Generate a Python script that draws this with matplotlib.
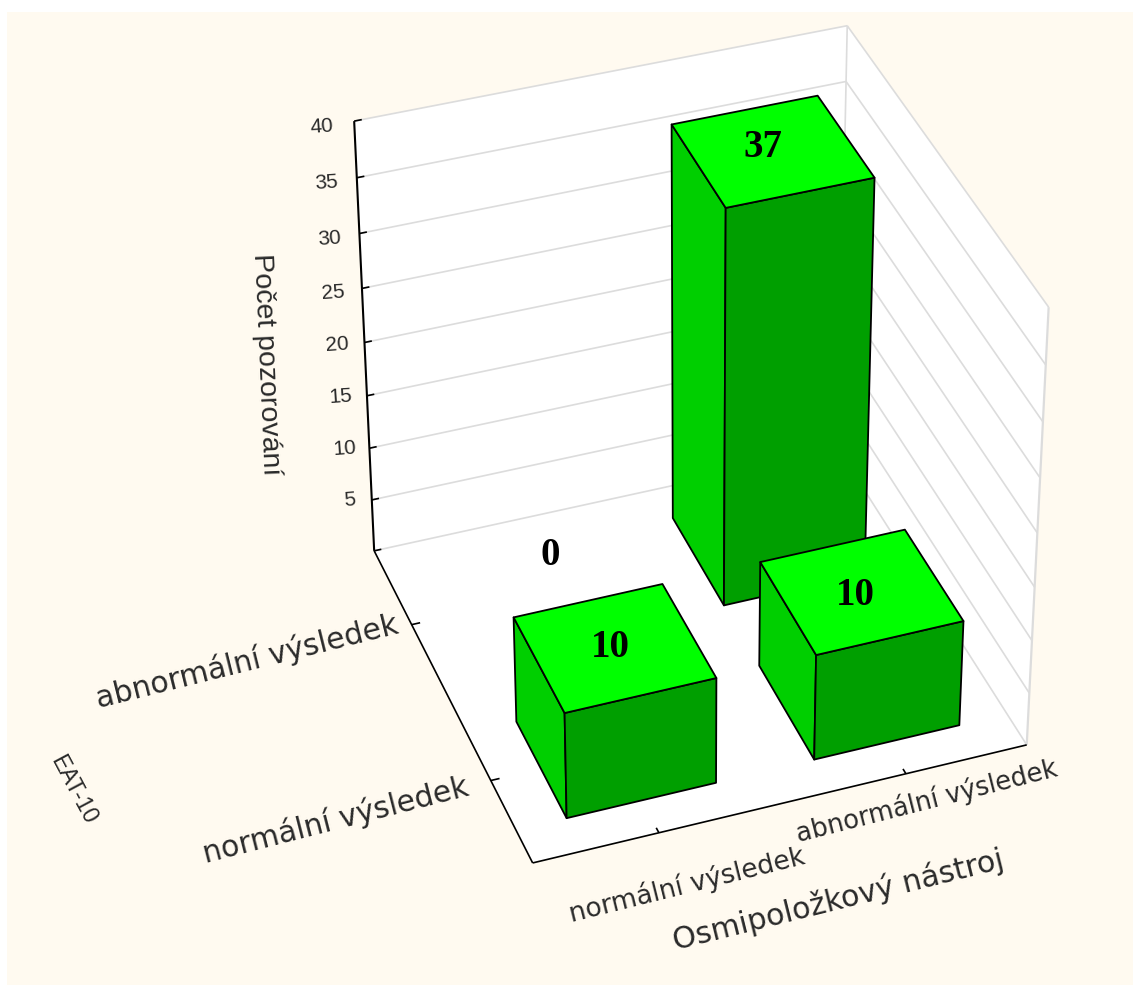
import numpy as np
import matplotlib
matplotlib.use("Agg")
import matplotlib.pyplot as plt
from matplotlib.patches import Rectangle
from matplotlib.text import Text
from matplotlib.transforms import Affine2D
from mpl_toolkits.mplot3d.art3d import Poly3DCollection

# Chart data
osmi_labels = ["normální výsledek", "abnormální výsledek"]
eat_labels = ["normální výsledek", "abnormální výsledek"]
counts_eat_normal = [10, 10]
counts_eat_abnormal = [0, 37]
z_ticks = [5, 10, 15, 20, 25, 30, 35, 40]
z_max = 40

W, H = 1133, 987
BAR_W = 0.60
BAR_D = 0.60
TOP_C, FRONT_C, SIDE_C = "#00FF00", "#009F00", "#00CF00"
GRID_C = "#DCDCDC"
TEXT_C = "#2A2A2A"

# Nudges in pixels for the value labels, keyed by (EAT-10 index, Osmi index)
value_nudge = {(1, 0): (18, -43), (1, 1): (-9, -4), (0, 0): (-3, 0), (0, 1): (-5, 4)}

# Camera calibration: box corners (x, y, z) and where they sit on the canvas
box_pts = np.array([[0, 0, 0], [2, 0, 0], [0, 2, 0], [2, 2, 0],
                    [0, 2, 40], [2, 2, 40], [2, 0, 40]], float)
canvas_pts = np.array([[533, 865], [1027, 745], [374, 550], [838, 452],
                       [354, 123], [848, 26], [1048, 308]], float)


def solve_camera(world, image):
    rows = []
    for (x, y, z), (u, v) in zip(world, image):
        rows.append([x, y, z, 1, 0, 0, 0, 0, -u*x, -u*y, -u*z, -u])
        rows.append([0, 0, 0, 0, x, y, z, 1, -v*x, -v*y, -v*z, -v])
    P = np.linalg.svd(np.array(rows))[2][-1].reshape(3, 4)
    if P[2] @ np.array([1, 1, 20, 1]) < 0:
        P = -P
    return P / (P[2] @ np.array([1, 1, 20, 1]))


P = solve_camera(box_pts, canvas_pts)

fig = plt.figure(figsize=(W / 100, H / 100), dpi=100, facecolor="white")
fig.add_artist(Rectangle((7 / W, 1 - 986 / H), 1 - 7 / W, 973 / H,
                         transform=fig.transFigure, facecolor="#FFFAF0",
                         edgecolor="none", zorder=-5))

ax = fig.add_axes([0, 0, 1, 1], projection="3d")
ax.set_axis_off()
ax.patch.set_visible(False)
ax.computed_zorder = False


def custom_proj():
    # Canvas pixels (origin top-left) to the axes' 2D coordinates
    to_display = np.array([[1, 0, 0], [0, -1, H], [0, 0, 1]], float)
    to_view = ax.transData.inverted().get_affine().get_matrix()
    Q = to_view @ to_display @ P
    return np.array([Q[0], Q[1], [0, 0, 0, -1], Q[2]])


ax.get_proj = custom_proj


def face(verts, fc, ec, lw, z):
    ax.add_collection3d(Poly3DCollection([verts], facecolors=fc, edgecolors=ec,
                                         linewidths=lw, zorder=z),
                        autolim=False)


def line3(xs, ys, zs, color="black", lw=1.2, z=3):
    ax.plot(xs, ys, zs, color=color, lw=lw, zorder=z, solid_capstyle="butt")


def value_text(x, y, z, s, nudge, order):
    ax.text(x, y, z, s, ha="center", va="center", zorder=order,
            transform=ax.transData + Affine2D().translate(nudge[0], -nudge[1]),
            family="Liberation Serif", weight="bold", size=28, color="black")


# Walls and floor
face([(0, 2, 0), (2, 2, 0), (2, 2, z_max), (0, 2, z_max)], "white", "none", 0, 1)
face([(2, 0, 0), (2, 2, 0), (2, 2, z_max), (2, 0, z_max)], "white", "none", 0, 1)
face([(0, 0, 0), (2, 0, 0), (2, 2, 0), (0, 2, 0)], "white", "none", 0, 1)

# Grid lines on the two walls
for tick in [0] + z_ticks:
    line3([0, 2], [2, 2], [tick, tick], GRID_C, 1.2, 2)
    line3([2, 2], [2, 0], [tick, tick], GRID_C, 1.2, 2)
line3([2, 2], [2, 2], [0, z_max], GRID_C, 1.2, 2)
line3([2, 2], [0, 0], [0, z_max], GRID_C, 1.6, 2)

# Axis lines and tick marks
line3([0, 0], [2, 0], [0, 0])
line3([0, 2], [0, 0], [0, 0])
line3([0, 0], [2, 2], [0, z_max], lw=1.5)
for tick in [0] + z_ticks:
    line3([0, 0.03], [2, 2], [tick, tick])
for pos in (0.5, 1.5):
    line3([pos, pos], [0, 0.03], [0, 0])
    line3([0, 0.035], [pos, pos], [0, 0])


# Bars, painted back to front with only their visible faces
def draw_bar(xc, yc, h, base_z):
    x0, x1 = xc - BAR_W / 2, xc + BAR_W / 2
    y0, y1 = yc - BAR_D / 2, yc + BAR_D / 2
    face([(x0, y0, 0), (x0, y1, 0), (x0, y1, h), (x0, y0, h)], SIDE_C, "black", 1.3, base_z)
    face([(x0, y0, 0), (x1, y0, 0), (x1, y0, h), (x0, y0, h)], FRONT_C, "black", 1.3, base_z + 0.1)
    face([(x0, y0, h), (x1, y0, h), (x1, y1, h), (x0, y1, h)], TOP_C, "black", 1.3, base_z + 0.2)


order = 4
for row_i, yc, row in ((1, 1.5, counts_eat_abnormal), (0, 0.5, counts_eat_normal)):
    for col_i, (xc, h) in enumerate(zip((0.5, 1.5), row)):
        if h > 0:
            draw_bar(xc, yc, h, order)
        value_text(xc, yc, h, str(h), value_nudge[(row_i, col_i)], order + 0.3)
        order += 1

ax.set_xlim(0, 2)
ax.set_ylim(0, 2)
ax.set_zlim(0, z_max)

# The unused empty title and offset strings stay out of the drawing
for artist in ax.findobj(Text):
    if not artist.get_text():
        artist.set_visible(False)


def label(px, py, s, size, rot, family="DejaVu Sans"):
    fig.text(px / W, 1 - py / H, s, fontsize=size, rotation=rot, rotation_mode="anchor",
             ha="center", va="center", color=TEXT_C, family=family)


# Tick labels, placed on the canvas next to their axes
z_label_y = [500, 449, 397, 345, 293, 239, 183, 127]
z_label_x = [350, 345, 341, 337, 333, 330, 326, 322]
for tick, px, py in zip(z_ticks, z_label_x, z_label_y):
    label(px, py, str(tick), 15, 4, "Liberation Sans")

label(247, 662, eat_labels[1], 21.5, 14)
label(336, 820, eat_labels[0], 21.5, 14.4)
label(687, 885, osmi_labels[0], 19, 14)
label(927, 801, osmi_labels[1], 18.5, 14.3)
label(838, 900, "Osmipoložkový nástroj", 21.6, 14)
label(266, 364, "Počet pozorování", 20.5, -87.5, "Liberation Sans")
label(73, 790, "EAT-10", 16.5, -62, "Liberation Sans")

fig.savefig("out.png", dpi=100, facecolor=fig.get_facecolor())
